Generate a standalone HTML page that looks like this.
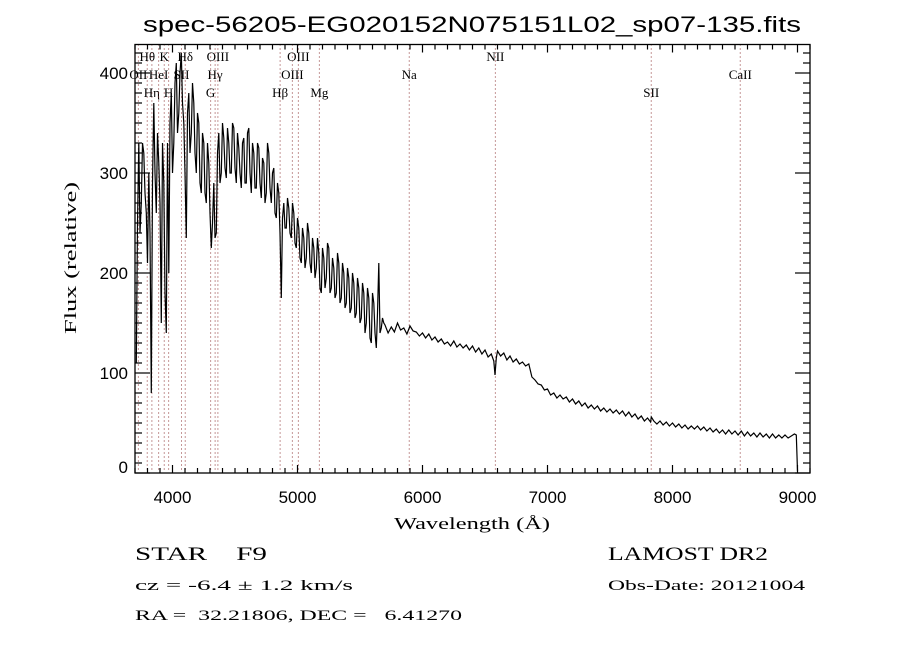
<!DOCTYPE html>
<html><head><meta charset="utf-8"><style>
html,body{margin:0;padding:0;background:#fff;}
svg{display:block;}
text{font-family:"Liberation Sans",sans-serif;fill:#000;}
.ser{font-family:"Liberation Serif",serif;}
</style></head><body>
<svg id="chart" width="900" height="650" viewBox="0 0 900 650" xmlns="http://www.w3.org/2000/svg">
<rect x="0" y="0" width="900" height="650" fill="#fff"/>
<text x="472" y="32" text-anchor="middle" font-size="22" textLength="658" lengthAdjust="spacingAndGlyphs">spec-56205-EG020152N075151L02_sp07-135.fits</text>
<g id="lines"></g>
<g id="spec"></g>
<rect x="135" y="44.5" width="675" height="428.5" fill="none" stroke="#000" stroke-width="1.3"/>
<g id="axes"></g>
<text x="472" y="529" text-anchor="middle" font-size="17" class="ser" textLength="156" lengthAdjust="spacingAndGlyphs">Wavelength (Å)</text>
<text x="76" y="258" text-anchor="middle" font-size="17" class="ser" transform="rotate(-90 76 258)" textLength="152" lengthAdjust="spacingAndGlyphs">Flux (relative)</text>
<text x="135" y="560" font-size="19" class="ser" xml:space="preserve" textLength="132" lengthAdjust="spacingAndGlyphs">STAR    F9</text>
<text x="135" y="590" font-size="15" class="ser" xml:space="preserve" textLength="218" lengthAdjust="spacingAndGlyphs">cz = -6.4 ± 1.2 km/s</text>
<text x="135" y="620" font-size="15" class="ser" xml:space="preserve" textLength="327" lengthAdjust="spacingAndGlyphs">RA =  32.21806, DEC =   6.41270</text>
<text x="608" y="560" font-size="19" class="ser" textLength="160" lengthAdjust="spacingAndGlyphs">LAMOST DR2</text>
<text x="608" y="590" font-size="15" class="ser" textLength="197" lengthAdjust="spacingAndGlyphs">Obs-Date: 20121004</text>
</svg>
<script>
const wavelengths = [3710,3720,3730,3740,3750,3760,3770,3780,3790,3800,3810,3820,3830,3840,3850,3860,3870,3880,3890,3900,3910,3920,3930,3940,3950,3960,3970,3980,3990,4000,4010,4020,4030,4040,4050,4060,4070,4080,4090,4100,4110,4120,4130,4140,4150,4160,4170,4180,4190,4200,4210,4220,4230,4240,4250,4260,4270,4280,4290,4300,4310,4320,4330,4340,4350,4360,4370,4380,4390,4400,4410,4420,4430,4440,4450,4460,4470,4480,4490,4500,4510,4520,4530,4540,4550,4560,4570,4580,4590,4600,4610,4620,4630,4640,4650,4660,4670,4680,4690,4700,4710,4720,4730,4740,4750,4760,4770,4780,4790,4800,4810,4820,4830,4840,4850,4860,4870,4880,4890,4900,4910,4920,4930,4940,4950,4960,4970,4980,4990,5000,5010,5020,5030,5040,5050,5060,5070,5080,5090,5100,5110,5120,5130,5140,5150,5160,5170,5180,5190,5200,5210,5220,5230,5240,5250,5260,5270,5280,5290,5300,5310,5320,5330,5340,5350,5360,5370,5380,5390,5400,5410,5420,5430,5440,5450,5460,5470,5480,5490,5500,5510,5520,5530,5540,5550,5560,5570,5580,5590,5600,5610,5620,5630,5640,5650,5660,5670,5680,5690,5700,
5725,5750,5775,5800,5825,5850,5875,5900,5925,5950,5975,6000,6025,6050,6075,6100,6125,6150,6175,6200,6225,6250,6275,6300,6325,6350,6375,6400,6425,6450,6475,6500,6525,6550,6570,6580,6590,6600,6625,6650,6675,6700,6725,6750,6775,6800,6825,6850,6875,6900,6925,6950,6975,7000,7025,7050,7075,7100,7125,7150,7175,7200,7225,7250,7275,7300,7325,7350,7375,7400,7425,7450,7475,7500,7525,7550,7575,7600,7625,7650,7675,7700,7725,7750,7775,7800,7825,7830,7850,7875,7900,7925,7950,7975,8000,8025,8050,8075,8100,8125,8150,8175,8200,8225,8250,8275,8300,8325,8350,8375,8400,8425,8450,8475,8500,8525,8550,8575,8600,8625,8650,8675,8700,8725,8750,8775,8800,8825,8850,8875,8900,8925,8950,8975,8990,9000];
const fluxValues = [110,250,330,240,270,330,320,280,260,210,300,240,80,290,370,300,260,340,310,270,150,330,290,180,140,330,200,350,380,300,330,390,410,340,360,400,420,370,350,300,235,360,380,320,340,390,370,320,300,360,350,290,280,340,330,280,270,330,310,260,225,250,290,235,240,320,340,290,300,350,335,305,295,345,330,300,300,350,345,305,290,340,325,300,285,330,335,290,290,340,345,300,280,330,320,285,285,330,325,290,275,315,310,270,280,330,320,285,270,300,305,260,255,290,280,240,175,255,270,245,245,275,265,240,235,270,260,230,225,255,245,215,210,245,235,205,215,250,240,210,200,235,225,195,205,235,220,185,180,225,215,185,195,230,225,180,185,215,205,175,180,220,210,170,175,210,200,165,170,205,195,160,165,200,190,155,160,195,185,150,155,190,180,140,150,185,175,135,130,180,170,140,125,160,210,140,145,155,150,148,
140,146,141,150,143,145,139,147,142,141,137,140,135,139,133,136,131,134,129,131,127,132,126,129,125,128,123,127,121,125,119,123,116,119,112,98,115,122,117,120,113,117,111,114,109,111,107,109,96,93,89,88,83,84,78,80,75,78,74,76,71,74,69,72,67,70,65,68,64,67,62,65,61,64,60,63,59,62,57,61,56,59,54,57,52,55,51,56,52,49,52,48,51,47,50,46,49,45,48,44,47,44,47,43,46,42,45,41,44,40,43,39,43,39,42,38,42,37,41,37,40,36,40,36,39,35,39,35,38,35,38,35,37,39,38,2];
const yTickLabels = ["0","100","200","300","400"];
const yTickValues = [0,100,200,300,400];
const xTickValues = [4000,5000,6000,7000,8000,9000];
const xTickLabels = ["4000","5000","6000","7000","8000","9000"];
const lineWaves = [3727,3798,3835,3889,3934,3969,4072,4102,4305,4341,4363,4861,4959,5007,5175,5894,6583,7830,8542];
const lineLabels = ["OII","Hθ","Hη","HeI","K","H","SII","Hδ","G","Hγ","OIII","Hβ","OIII","OIII","Mg","Na","NII","SII","CaII"];
const lineRows = [1,0,2,1,0,2,1,0,2,1,0,2,1,0,2,1,0,2,1];

const X0=135,X1=810,Y0=473,Y1=44.5,WMIN=3700,WMAX=9100,FMIN=0,FMAX=428.5;
function xs(w){return X0+(w-WMIN)/(WMAX-WMIN)*(X1-X0);}
function ys(f){return Y0-(f-FMIN)/(FMAX-FMIN)*(Y0-Y1);}
const NS="http://www.w3.org/2000/svg";
function mk(tag,parent){const e=document.createElementNS(NS,tag);parent.appendChild(e);return e;}

const lines=document.getElementById('lines');
const rowY=[61,79,97];
lineWaves.forEach((w,i)=>{
  const l=mk('line',lines);
  
  
  l.setAttribute('x1',xs(w));l.setAttribute('x2',xs(w));l.setAttribute('y1',Y1);l.setAttribute('y2',Y0);
  l.setAttribute('stroke','#8b3030');l.setAttribute('stroke-width','1');l.setAttribute('stroke-dasharray','1,3');
  const t=mk('text',lines);
  
  
  t.setAttribute('x',xs(w));t.setAttribute('y',rowY[lineRows[i]]);
  t.setAttribute('text-anchor','middle');t.setAttribute('font-size','13');t.setAttribute('class','ser');
  t.textContent=lineLabels[i];
});

const spec=document.getElementById('spec');
const pl=mk('polyline',spec);


pl.setAttribute('points',wavelengths.map((w,i)=>xs(w).toFixed(1)+','+ys(fluxValues[i]).toFixed(1)).join(' '));
pl.setAttribute('fill','none');pl.setAttribute('stroke','#000');pl.setAttribute('stroke-width','1.2');

const axes=document.getElementById('axes');
function tick(x1,y1,x2,y2,name){const l=mk('line',axes);
  
  
  l.setAttribute('x1',x1);l.setAttribute('y1',y1);l.setAttribute('x2',x2);l.setAttribute('y2',y2);l.setAttribute('stroke','#000');l.setAttribute('stroke-width','1.2');}
for(let w=3700;w<=9100;w+=100){const x=xs(w);const major=w%1000===0;const L=major?8:5;
  tick(x,Y0,x,Y0-L,'x-tick');tick(x,Y1,x,Y1+L,'x-tick-top');}
for(let f=0;f<=420;f+=10){const y=ys(f);const major=f%100===0;const L=major?15:7;
  tick(X0,y,X0+L,y,'y-tick');tick(X1,y,X1-L,y,'y-tick-right');}
xTickValues.forEach((v,i)=>{const t=mk('text',axes);
  
  
  t.setAttribute('x',xs(v));t.setAttribute('y',503);t.setAttribute('text-anchor','middle');t.setAttribute('font-size','17');t.textContent=xTickLabels[i];});
yTickValues.forEach((v,i)=>{const t=mk('text',axes);
  
  
  const y=Math.min(ys(v)+6,473);
  t.setAttribute('x',128);t.setAttribute('y',y);t.setAttribute('text-anchor','end');t.setAttribute('font-size','17');t.textContent=yTickLabels[i];});
</script>
</body></html>
